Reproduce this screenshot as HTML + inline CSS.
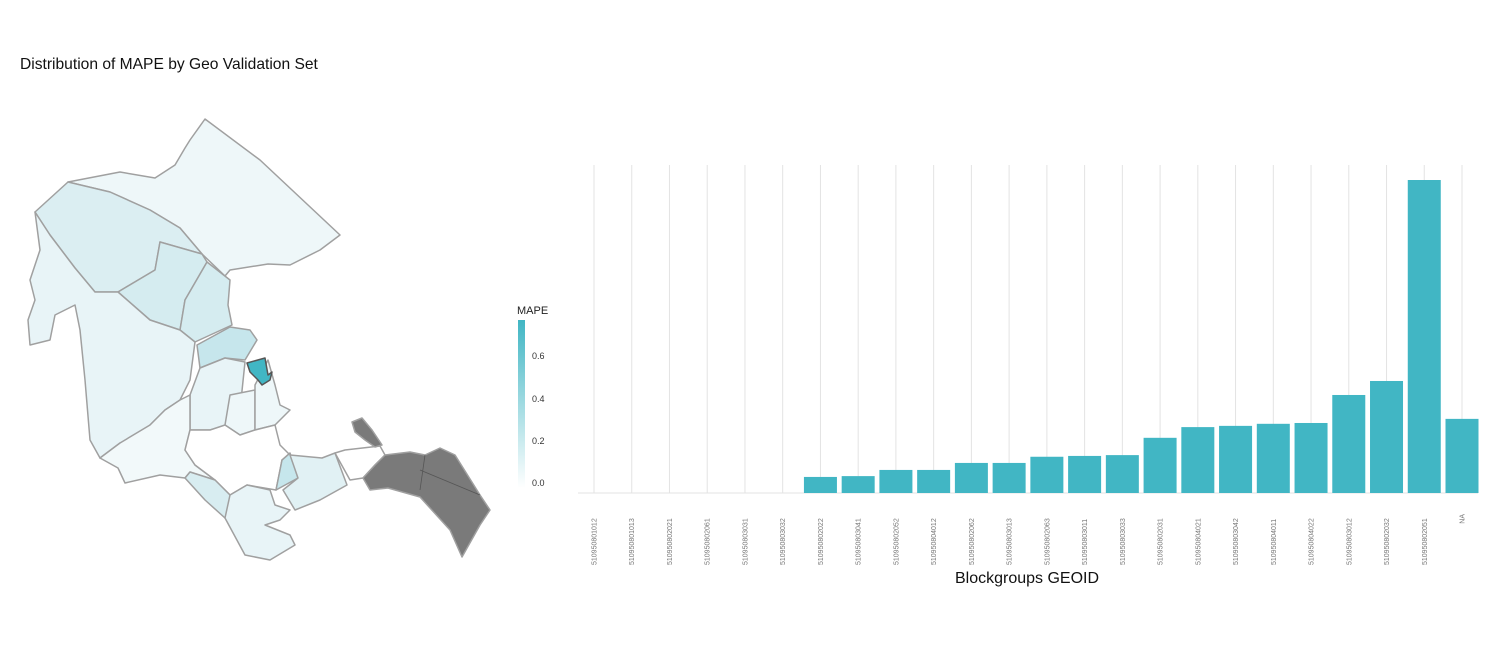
<!DOCTYPE html>
<html><head><meta charset="utf-8"><style>
body{margin:0;background:#fff;font-family:"Liberation Sans",Arial,sans-serif}
svg{display:block}
</style></head><body>
<svg width="1500" height="672" viewBox="0 0 1500 672" xmlns="http://www.w3.org/2000/svg">
<text x="20" y="69" font-size="15.6" fill="#111">Distribution of MAPE by Geo Validation Set</text>
<g stroke="#a0a0a0" stroke-width="1.5" stroke-linejoin="round">
<path fill="#eef7f9" d="M68,182 L120,172 L155,178 L175,165 L185,148 L190,140 L205,119 L260,160 L340,235 L320,250 L290,265 L268,264 L230,270 L225,276 L202,254 L180,228 L150,210 L110,192 Z"/>
<path fill="#dbeef2" d="M35,212 L68,182 L110,192 L150,210 L180,228 L202,254 L160,242 L155,270 L118,292 L95,292 L75,268 L50,235 Z"/>
<path fill="#d5ecf0" d="M160,242 L202,254 L207,262 L185,300 L180,330 L150,320 L118,292 L155,270 Z"/>
<path fill="#d5ecf0" d="M207,262 L230,280 L228,305 L232,325 L195,342 L180,330 L185,300 Z"/>
<path fill="#e8f4f7" d="M35,212 L50,235 L75,268 L95,292 L118,292 L150,320 L180,330 L195,342 L190,380 L180,400 L165,410 L150,425 L135,440 L120,443 L100,458 L90,440 L85,380 L80,330 L75,305 L55,315 L50,340 L30,345 L28,320 L35,300 L30,280 L40,250 Z"/>
<path fill="#c6e6ec" d="M197,345 L230,327 L250,330 L257,340 L245,360 L225,358 L200,368 Z"/>
<path fill="#e8f4f7" d="M200,368 L225,358 L245,362 L240,410 L230,425 L210,430 L190,430 L190,395 Z"/>
<path fill="#eef7f9" d="M230,395 L255,390 L255,430 L240,435 L225,425 Z"/>
<path fill="#eef7f9" d="M255,385 L268,360 L275,385 L280,405 L290,410 L275,425 L255,430 Z"/>
<path fill="#f2f9fa" d="M100,458 L120,443 L150,425 L165,410 L180,400 L190,395 L190,430 L185,450 L195,465 L215,480 L190,472 L185,478 L160,475 L125,483 L118,468 Z"/>
<path fill="#ffffff" d="M190,430 L210,430 L225,425 L240,435 L255,430 L275,425 L280,445 L290,455 L282,460 L276,490 L247,485 L230,495 L215,480 L195,465 L185,450 Z"/>
<path fill="#d8edf1" d="M185,478 L190,472 L215,480 L230,495 L235,505 L225,518 L205,500 Z"/>
<path fill="#e8f4f7" d="M230,495 L247,485 L270,490 L275,505 L290,510 L280,520 L265,525 L290,535 L295,545 L270,560 L245,555 L225,518 Z"/>
<path fill="#c6e6ec" d="M282,460 L290,453 L298,478 L276,490 Z"/>
<path fill="#e1f1f4" d="M290,455 L322,458 L335,453 L347,485 L320,500 L295,510 L283,490 L298,478 Z"/>
<path fill="#ffffff" d="M335,453 L345,450 L380,446 L385,455 L375,465 L363,478 L350,480 Z"/>
<path fill="#41b6c4" stroke="#555" d="M247,363 L265,358 L268,375 L272,372 L270,380 L262,385 L258,380 L250,372 Z"/>
<path fill="#7a7a7a" d="M352,422 L362,418 L372,430 L382,445 L375,447 L365,440 L355,432 Z"/>
<path fill="#7a7a7a" d="M363,478 L375,465 L385,455 L410,452 L425,455 L440,448 L455,455 L480,495 L490,510 L480,525 L462,557 L450,530 L420,497 L388,488 L370,490 Z"/>
<path fill="none" stroke="#555" stroke-width="0.8" d="M425,455 L420,490 M420,470 L480,495"/>
</g>
<g>
<defs><linearGradient id="lg" x1="0" y1="1" x2="0" y2="0"><stop offset="0" stop-color="#ffffff"/><stop offset="1" stop-color="#41b6c4"/></linearGradient></defs>
<text x="517" y="314" font-size="11" fill="#222">MAPE</text>
<rect x="518" y="320" width="7" height="168" fill="url(#lg)"/>
<g font-size="9" fill="#333">
<text x="532" y="359">0.6</text>
<text x="532" y="402">0.4</text>
<text x="532" y="444">0.2</text>
<text x="532" y="486">0.0</text>
</g>
</g>
<g id="bars"></g>
<text x="1027" y="583" font-size="16" text-anchor="middle" fill="#111">Blockgroups GEOID</text>
</svg>
<script>
const categories = ["510950801012","510950801013","510950802021","510950802061","510950803031","510950803032","510950802022","510950803041","510950802052","510950804012","510950802062","510950803013","510950802063","510950803011","510950803033","510950802031","510950804021","510950803042","510950804011","510950804022","510950803012","510950802032","510950802051","NA"];
const mapeValues = [null,null,null,null,null,null,0.039,0.041,0.056,0.056,0.073,0.073,0.088,0.090,0.092,0.134,0.160,0.163,0.168,0.170,0.238,0.272,0.760,0.180];
const NS='http://www.w3.org/2000/svg';
const g=document.getElementById('bars');
const x0=594, step=(1462-594)/(categories.length-1), base=493, yScale=313/0.76;
const xPos=i=>x0+i*step;
const yPos=v=>base-v*yScale;
function mk(t,a){const e=document.createElementNS(NS,t);for(const k in a)e.setAttribute(k,a[k]);g.appendChild(e);return e;}
categories.forEach((c,i)=>{
  const gl=mk('line',{x1:xPos(i),x2:xPos(i),y1:165,y2:493,stroke:'#e3e3e3','stroke-width':1});
  
  
});
const axis=mk('line',{x1:578,x2:1478,y1:base,y2:base,stroke:'#e3e3e3','stroke-width':1});


categories.forEach((c,i)=>{
  const v=mapeValues[i];
  if(v!=null){
    const r=mk('rect',{x:xPos(i)-16.5,y:yPos(v),width:33,height:base-yPos(v),fill:'#41b6c4'});
    
    
  }
  const t=mk('text',{x:0,y:0,'font-size':7,fill:'#777'});
  t.textContent=c;
  t.setAttribute('transform',`translate(${xPos(i)+2.5},${c==='NA'?514:565}) rotate(-90)`);
  t.setAttribute('text-anchor', c==='NA'?'end':'start');
  
  
});
</script>
</body></html>
